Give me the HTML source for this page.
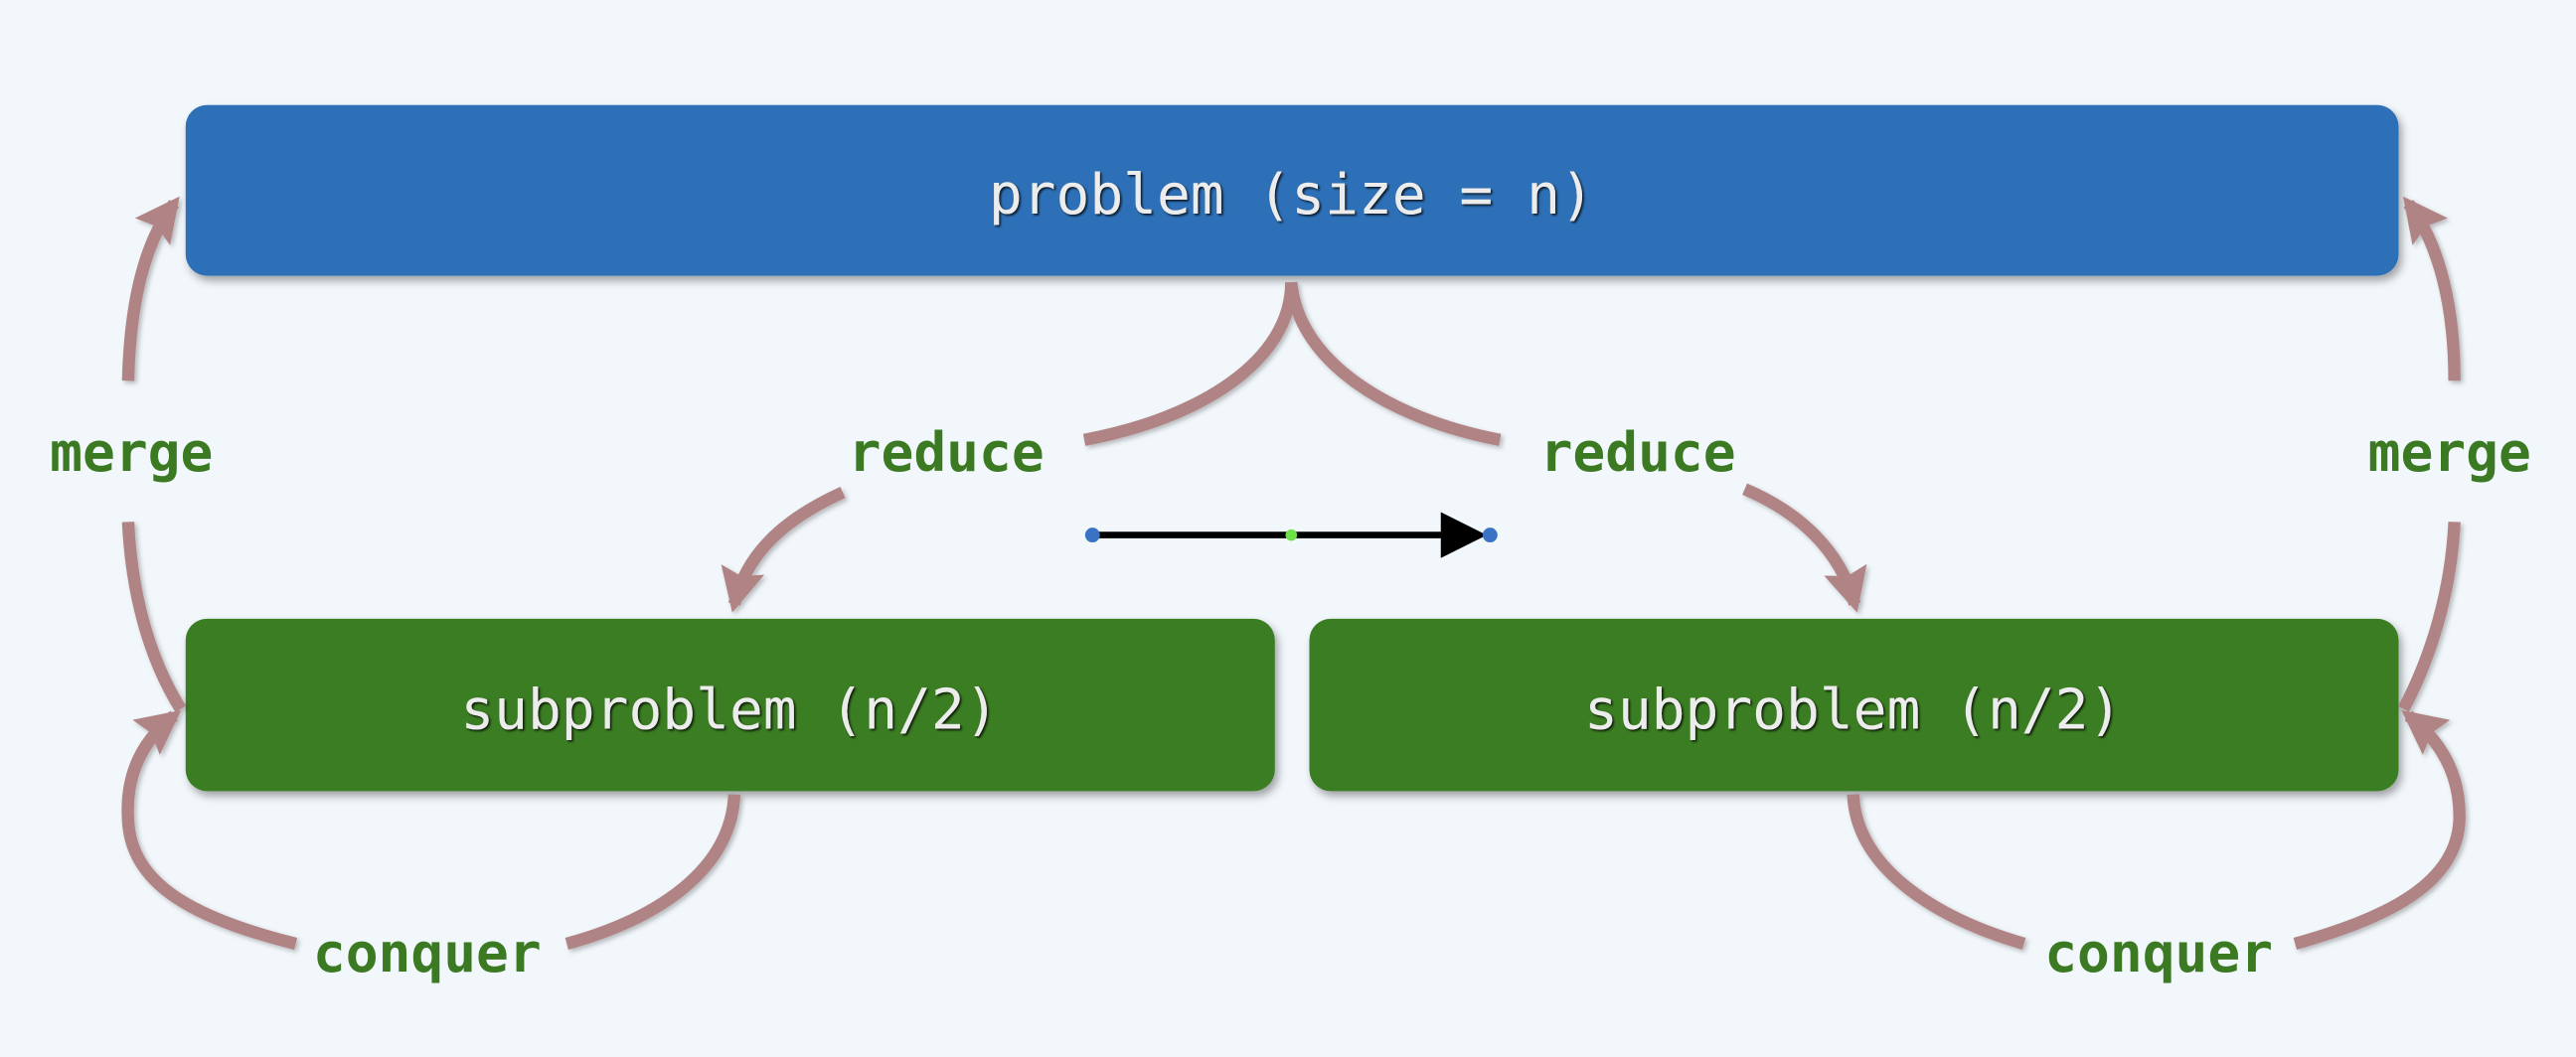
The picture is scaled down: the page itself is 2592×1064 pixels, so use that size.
<!DOCTYPE html>
<html><head><meta charset="utf-8"><style>
html,body{margin:0;padding:0;background:#f2f7fb;}
svg{display:block}
</style></head><body>
<svg width="2592" height="1064" viewBox="0 0 1568 644" preserveAspectRatio="none" xmlns="http://www.w3.org/2000/svg">
<defs>
<filter id="sh" x="-10%" y="-10%" width="120%" height="140%"><feDropShadow dx="2" dy="3" stdDeviation="2.5" flood-color="#000" flood-opacity="0.35"/></filter>
<filter id="ash" x="-20%" y="-20%" width="140%" height="140%"><feDropShadow dx="1.5" dy="1.5" stdDeviation="1.5" flood-color="#000" flood-opacity="0.25"/></filter>
<filter id="ts"><feDropShadow dx="1" dy="1" stdDeviation="0.6" flood-color="#000" flood-opacity="0.8"/></filter>
<marker id="ah" viewBox="0 0 10 10" refX="8" refY="5" markerWidth="3.6" markerHeight="3.6" orient="auto" markerUnits="strokeWidth">
<path d="M0,0 L10,5 L0,10 L1.5,5 Z" fill="#b08484"/></marker>
</defs>
<rect width="1568" height="644" fill="#f2f7fb"/>
<rect x="113" y="64" width="1347" height="104" rx="13" fill="#2d6fb7" filter="url(#sh)"/>
<rect x="113" y="377" width="663" height="105" rx="13" fill="#3a7d23" filter="url(#sh)"/>
<rect x="797" y="377" width="663" height="105" rx="13" fill="#3a7d23" filter="url(#sh)"/>
<g font-family="'DejaVu Sans Mono','Liberation Mono',monospace" font-size="34" fill="#ececec" text-anchor="middle" filter="url(#ts)">
<text x="786" y="130">problem (size = n)</text>
<text x="444" y="444">subproblem (n/2)</text>
<text x="1128" y="444">subproblem (n/2)</text>
</g>
<g fill="none" stroke="#b08484" stroke-width="7.5" filter="url(#ash)">
<path d="M786,172 C786,220 730,255 660,268"/>
<path d="M786,172 C790,220 845,255 913,268"/>
<path d="M513,300 C480,315 455,335 447,368" marker-end="url(#ah)"/>
<path d="M1062,298 C1095,312 1120,335 1129,368" marker-end="url(#ah)"/>
<path d="M110,432 C90,400 80,360 78,318"/>
<path d="M78,232 C79,190 86,150 106,124" marker-end="url(#ah)"/>
<path d="M447,484 C445,530 400,560 345,575"/>
<path d="M180,575 C120,560 80,540 78,500 C76,470 88,450 106,436" marker-end="url(#ah)"/>
<path d="M1128,484 C1130,530 1180,560 1232,575"/>
<path d="M1397,575 C1450,560 1495,540 1497,500 C1498,470 1484,450 1466,436" marker-end="url(#ah)"/>
<path d="M1463,432 C1480,400 1492,360 1494,318"/>
<path d="M1494,232 C1494,190 1486,150 1466,124" marker-end="url(#ah)"/>
</g>
<g font-family="'DejaVu Sans Mono','Liberation Mono',monospace" font-size="33" font-weight="bold" fill="#3b7a22" text-anchor="middle">
<text x="80" y="287">merge</text>
<text x="576" y="287">reduce</text>
<text x="997" y="287">reduce</text>
<text x="1491" y="287">merge</text>
<text x="260" y="592">conquer</text>
<text x="1314" y="592">conquer</text>
</g>
<line x1="665" y1="326" x2="882" y2="326" stroke="#000" stroke-width="4"/>
<path d="M877,312 L905,326 L877,340 Z" fill="#000"/>
<circle cx="665" cy="326" r="4.5" fill="#3a72c4"/>
<circle cx="907" cy="326" r="4.5" fill="#3a72c4"/>
<circle cx="786" cy="326" r="3.5" fill="#6ee04a"/>
</svg>
</body></html>
